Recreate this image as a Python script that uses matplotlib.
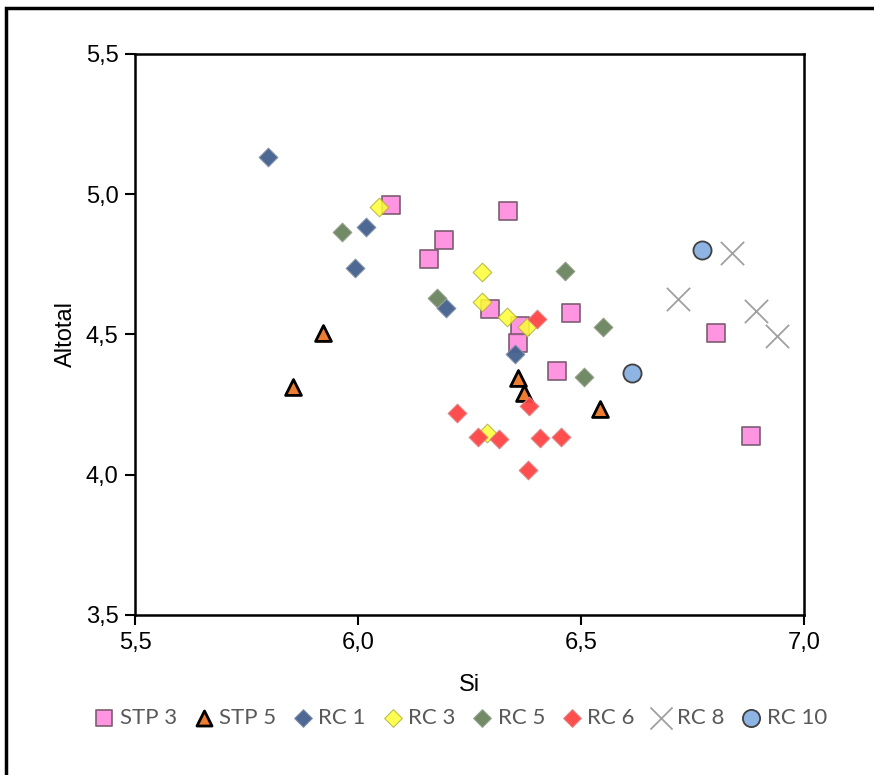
import numpy as np
import matplotlib.pyplot as plt
from matplotlib.ticker import FuncFormatter, MultipleLocator
from matplotlib.patches import Rectangle

plt.rcParams['font.family'] = ['Liberation Sans', 'DejaVu Sans']

# data (Si, Altotal)
stp3_si = [6.073, 6.192, 6.158, 6.337, 6.295, 6.478, 6.362, 6.358, 6.445, 6.803, 6.881]
stp3_al = [4.961, 4.836, 4.768, 4.939, 4.589, 4.575, 4.529, 4.468, 4.368, 4.504, 4.139]
stp5_si = [5.921, 5.854, 6.358, 6.373, 6.543]
stp5_al = [4.504, 4.314, 4.343, 4.293, 4.236]
rc1_si = [5.798, 6.017, 5.993, 6.198, 6.353]
rc1_al = [5.132, 4.882, 4.736, 4.593, 4.429]
rc3_si = [6.046, 6.279, 6.279, 6.333, 6.378, 6.288]
rc3_al = [4.954, 4.721, 4.614, 4.561, 4.525, 4.150]
rc5_si = [5.963, 6.178, 6.465, 6.550, 6.507]
rc5_al = [4.864, 4.629, 4.725, 4.525, 4.350]
rc6_si = [6.402, 6.384, 6.221, 6.268, 6.317, 6.407, 6.456, 6.380]
rc6_al = [4.554, 4.246, 4.221, 4.136, 4.129, 4.132, 4.136, 4.018]
rc8_si = [6.839, 6.718, 6.892, 6.940]
rc8_al = [4.789, 4.625, 4.582, 4.493]
rc10_si = [6.771, 6.615]
rc10_al = [4.800, 4.364]

fig = plt.figure(figsize=(8.74, 7.75), dpi=100)
ax = fig.add_axes([0.1545, 0.2065, 0.7655, 0.7239])

ax.scatter(stp3_si, stp3_al, marker='s', s=150, c='#FF88DD', edgecolors='#7A5A6E',
           linewidths=1.3, alpha=0.9, label='STP 3', zorder=3)
ax.scatter(stp5_si, stp5_al, marker='^', s=130, c='#ED7D31', edgecolors='black',
           linewidths=2, label='STP 5', zorder=3)
ax.scatter(rc1_si, rc1_al, marker='D', s=90, c='#44608E', edgecolors='#8090A8',
           linewidths=0.8, alpha=0.95, label='RC 1', zorder=3)
ax.scatter(rc3_si, rc3_al, marker='D', s=90, c='#FFFF33', edgecolors='#B0B040',
           linewidths=0.8, alpha=0.85, label='RC 3', zorder=3)
ax.scatter(rc5_si, rc5_al, marker='D', s=90, c='#6B845E', edgecolors='#90A088',
           linewidths=0.8, alpha=0.95, label='RC 5', zorder=3)
ax.scatter(rc6_si, rc6_al, marker='D', s=90, c='#FF4444', edgecolors='#E08080',
           linewidths=0.8, alpha=0.95, label='RC 6', zorder=3)
ax.scatter(rc8_si, rc8_al, marker='x', s=280, c='#A0A0A0', linewidths=1.3,
           label='RC 8', zorder=3)
ax.scatter(rc10_si, rc10_al, marker='o', s=170, c='#8DB4E2', edgecolors='#404040',
           linewidths=1.3, label='RC 10', zorder=3)

ax.set_xlim(5.5, 7.0)
ax.set_ylim(3.5, 5.5)
ax.xaxis.set_major_locator(MultipleLocator(0.5))
ax.yaxis.set_major_locator(MultipleLocator(0.5))
comma = FuncFormatter(lambda v, p: f'{v:.1f}'.replace('.', ','))
ax.xaxis.set_major_formatter(comma)
ax.yaxis.set_major_formatter(comma)
ax.tick_params(direction='out', length=7, width=1.5, labelsize=17, pad=5)
for sp in ax.spines.values():
    sp.set_linewidth(1.8)
    sp.set_color('black')

ax.set_xlabel('Si', fontsize=17, labelpad=15)
ax.set_ylabel('Altotal', fontsize=17, labelpad=6)

leg = fig.legend(loc='center', bbox_to_anchor=(0.527, 0.074), ncol=8, frameon=False,
                 prop={'family': 'Lato', 'size': 16}, handlelength=0.9,
                 handletextpad=0.25, columnspacing=0.75,
                 markerscale=0.95, borderaxespad=0)
for t in leg.get_texts():
    t.set_color('#595959')

# outer chart border (right and bottom fall outside the image)
fig.patches.append(Rectangle((6 / 874, -0.1), 1.2, 1.1 - 8 / 775,
                             transform=fig.transFigure, fill=False,
                             edgecolor='black', linewidth=2.5))

fig.savefig('out.png', dpi=100)
